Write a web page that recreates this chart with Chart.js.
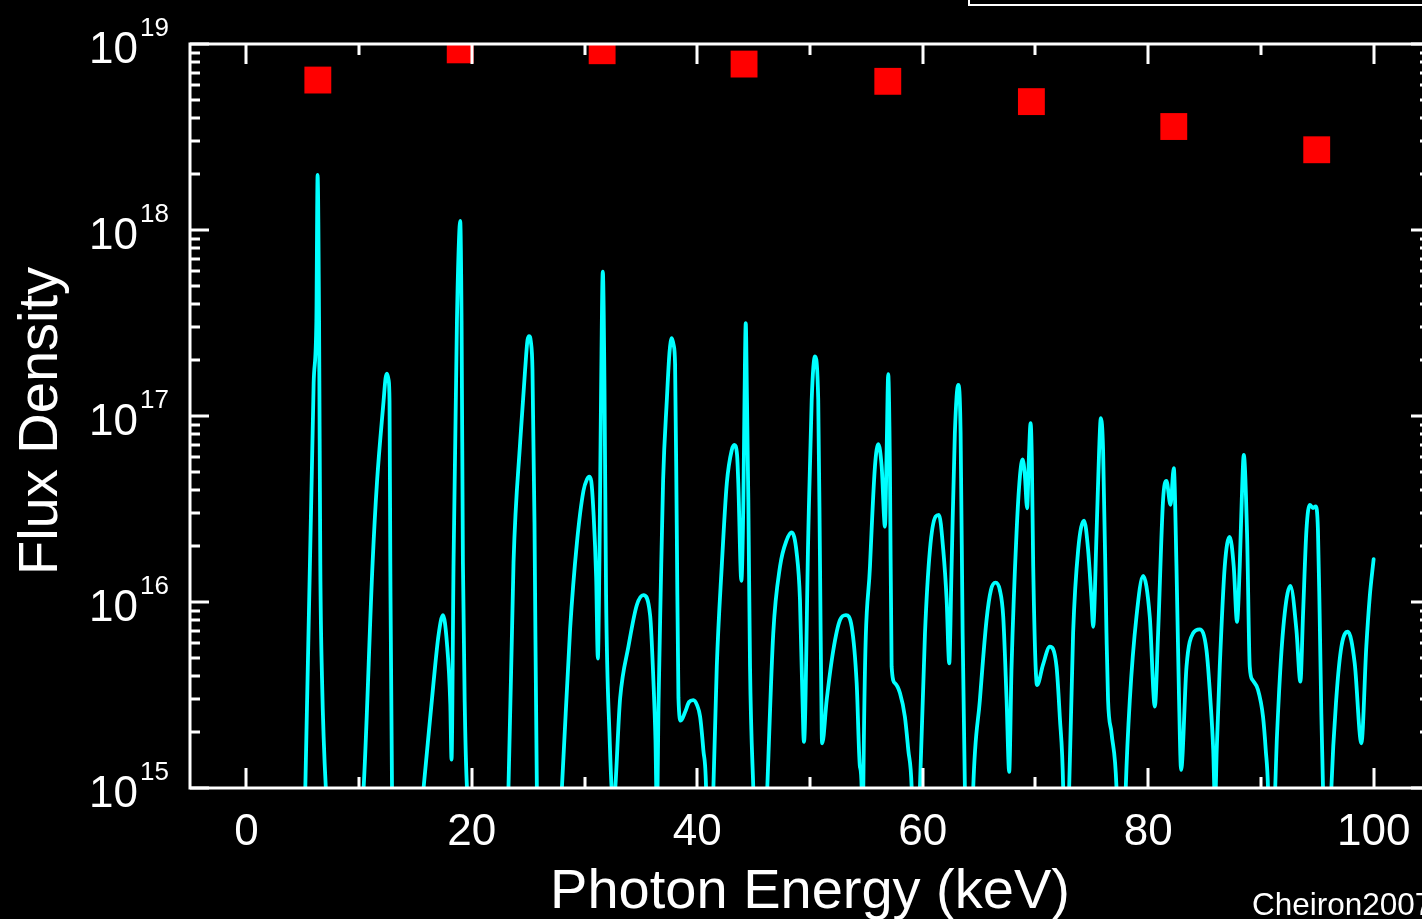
<!DOCTYPE html>
<html>
<head>
<meta charset="utf-8">
<title>Flux Density</title>
<script src="https://cdn.jsdelivr.net/npm/chart.js@4/dist/chart.umd.min.js"></script>
<style>
  html, body { margin: 0; padding: 0; background: #000; overflow: hidden; }
  #chart { display: block; }
</style>
</head>
<body>
<canvas id="chart" width="1422" height="919"></canvas>
<script>
// photon energy (keV) and flux density of the calculated spectrum
const energy = [
    5.05, 5.23, 5.97, 6.21, 6.32, 6.45, 6.56, 6.71, 7.05, 8.8,
    10.40, 11.20, 11.59, 12.17, 12.35, 12.47, 12.62, 12.70, 12.77, 12.92, 14.1,
    15.72, 16.60, 17.05, 17.44, 17.79, 18.09, 18.20, 18.38, 18.68, 18.86, 18.97, 19.09, 19.21, 19.39, 19.57, 21.5,
    23.25, 23.70, 24.29, 24.73, 24.94, 25.09, 25.24, 25.38, 25.56, 25.77, 26.9,
    27.99, 28.72, 29.32, 29.90, 30.23, 30.41, 30.59, 30.79, 31.03, 31.18, 31.32, 31.47, 31.62, 31.77, 31.91, 32.21,
    32.55, 33.16, 33.89, 34.64, 35.22, 35.82, 36.11, 36.29, 36.42,
    36.57, 36.75, 36.97, 37.30, 37.54, 37.74, 37.90, 38.03, 38.18, 38.33, 38.54, 38.92, 39.27, 39.65, 39.98, 40.25, 40.54, 40.78, 41.05,
    41.43, 41.73, 42.17, 42.62, 43.06, 43.29, 43.53, 43.64, 43.91, 44.09, 44.19, 44.30, 44.41, 44.53, 44.68, 44.97, 45.6,
    46.21, 46.74, 47.34, 47.93, 48.38, 48.82, 49.11, 49.41, 49.47, 49.85, 50.15, 50.44, 50.73, 50.89, 51.04, 51.09,
    51.48, 52.07, 52.66, 53.19, 53.70, 54.14, 54.43, 54.58, 54.65,
    54.73, 55.32, 55.76, 56.06, 56.36, 56.65, 56.80, 56.94, 57.09, 57.24, 57.54, 57.98, 58.42, 58.72, 59.02, 59.4,
    59.75, 60.20, 60.64, 61.14, 61.44, 61.82, 62.12, 62.35, 62.56, 62.85, 63.15, 63.36, 63.54, 63.74, 64.1,
    64.48, 65.07, 65.66, 66.05, 66.46, 66.84, 67.14, 67.44, 67.67, 67.88, 68.32, 68.62, 68.86, 69.06, 69.26, 69.41,
    69.57, 69.68, 69.80, 70.10, 70.15, 70.66, 71.28, 71.87, 72.16, 72.46, 72.7,
    72.99, 73.34, 73.79, 74.32, 74.67, 74.97, 75.12, 75.42, 75.65, 75.80, 76.00, 76.30, 76.44, 76.75, 77.19, 77.6,
    78.01, 78.37, 78.96, 79.55, 80.14, 80.59, 80.88, 81.32, 81.62, 81.98, 82.27, 82.51, 82.74, 82.92, 83.40, 83.98,
    84.57, 85.17, 85.52, 85.77, 85.93, 86.08,
    86.35, 86.79, 87.23, 87.59, 87.88, 88.12, 88.30, 88.48, 88.77, 89.01, 89.25, 89.74, 90.19, 90.43, 90.63, 90.96,
    91.27, 91.67, 92.11, 92.62, 93.15, 93.50, 93.74, 94.04, 94.33, 94.62, 94.86, 95.06, 95.21, 95.36, 95.51, 95.8,
    96.25, 96.70, 97.14, 97.72, 98.32, 98.91, 99.35, 99.65, 100.0
];
const flux = [
    1e14, 1e15, 1.51e17, 3.24e17, 1.98e18, 3.24e17, 1.58e16, 3.9e15, 1e15, 1e14,
    1e15, 1.63e16, 4.42e16, 1.20e17, 1.6e17, 1.69e17, 1.56e17, 1.20e17, 1.63e16, 1e15, 1e14,
    1e15, 3.67e15, 6.65e15, 8.5e15, 6.03e15, 2.84e15, 1.42e15, 1.63e16, 3.24e17, 8.8e17, 1.12e18, 3.24e17, 1.63e16, 2.45e15, 1e15, 1e14,
    1e15, 1.63e16, 7.26e16, 1.78e17, 2.56e17, 2.69e17, 2.50e17, 1.78e17, 2.68e16, 1e15, 1e14,
    1e15, 7.16e15, 2.07e16, 3.95e16, 4.58e16, 4.72e16, 4.48e16, 3.05e16, 1.35e16, 4.97e15, 1.68e16, 1.42e17, 5.98e17, 1.42e17, 1.09e16, 1.98e15,
    8e14, 3.05e15, 5.75e15, 9.64e15, 1.09e16, 8.45e15, 3.76e15, 1.81e15, 7e14,
    2.97e15, 1.09e16, 4.53e16, 1.22e17, 2.21e17, 2.62e17, 2.41e17, 1.91e17, 2.56e16, 3.05e15, 2.30e15, 2.56e15, 2.9e15, 2.97e15, 2.79e15, 2.42e15, 1.60e15, 1e15, 1e14,
    1e15, 4.49e15, 1.55e16, 4.35e16, 6.56e16, 6.99e16, 6.17e16, 4.35e16, 1.30e16, 3.53e16, 1.22e17, 3.16e17, 1.22e17, 3.53e16, 4.49e15, 1e15, 1e14,
    1e15, 6.79e15, 1.55e16, 2.15e16, 2.37e16, 1.83e16, 1.03e16, 1.97e15, 1.77e15, 2.35e16, 1.22e17, 2.09e17, 1.22e17, 1.55e16, 1.97e15, 1.74e15,
    2.97e15, 5.52e15, 8.0e15, 8.5e15, 7.36e15, 3.66e15, 1.30e15, 1e15, 1e14,
    1e15, 1.55e16, 5.33e16, 7.06e16, 5.33e16, 2.54e16, 6.56e16, 1.68e17, 5.33e16, 4.49e15, 3.66e15, 3.24e15, 2.41e15, 1.60e15, 1e15, 1e14,
    1e15, 6.79e15, 1.91e16, 2.88e16, 2.94e16, 1.91e16, 1.03e16, 4.68e15, 1.55e16, 8.07e16, 1.47e17, 8.07e16, 6.79e15, 1e15, 1e14,
    1e15, 2.97e15, 8.0e15, 1.16e16, 1.27e16, 1.16e16, 8.34e15, 2.97e15, 1.22e15, 4.49e15, 2.34e16, 4.72e16, 5.85e16, 4.82e16, 3.19e16, 5.80e16,
    9.14e16, 5.8e16, 1.55e16, 3.66e15, 3.58e15, 4.58e15, 5.75e15, 4.49e15, 2.41e15, 1e15, 1e14,
    1e15, 6.79e15, 1.91e16, 2.74e16, 1.91e16, 1.03e16, 7.36e15, 2.34e16, 6.56e16, 9.73e16, 6.56e16, 6.79e15, 2.97e15, 1.97e15, 1e15, 1e14,
    1e15, 2.97e15, 8.34e15, 1.38e16, 8.34e15, 2.74e15, 6.79e15, 3.53e16, 4.48e16, 3.33e16, 5.24e16, 1.55e16, 2.97e15, 1.25e15, 4.49e15, 6.79e15,
    7.13e15, 5.52e15, 2.97e15, 1.6e15, 8e14, 1.6e15,
    4.49e15, 1.55e16, 2.24e16, 1.55e16, 7.83e15, 1.55e16, 3.53e16, 6.17e16, 2.34e16, 4.49e15, 3.81e15, 3.37e15, 2.41e15, 1.60e15, 1e15, 1e14,
    1e15, 3.81e15, 8.68e15, 1.22e16, 7.07e15, 3.73e15, 8.68e15, 2.44e16, 3.33e16, 3.2e16, 3.27e16, 2.44e16, 8.68e15, 2.52e15, 1e15, 1e14,
    1e15, 3.10e15, 5.75e15, 6.92e15, 4.68e15, 1.74e15, 5.75e15, 1.06e16, 1.70e16
];

// odd harmonics: peak flux (red squares)
const harmonicEnergy = [6.34, 18.97, 31.56, 44.15, 56.9, 69.64, 82.27, 94.95];
const harmonicFlux = [6.4e18, 9.3e18, 9.2e18, 7.8e18, 6.3e18, 4.9e18, 3.6e18, 2.7e18];

const xTickValues = [0, 20, 40, 60, 80, 100];
const yDecades = [15, 16, 17, 18, 19];

// the plot frame runs from -5 to 105 keV; the window cuts it a little before 105
const X_MIN = -5, X_FRAME_MAX = 105, X_VISIBLE_MAX = 104.29;

const FONT = "'Liberation Sans', Arial, Helvetica, sans-serif";

// frame, inward ticks, labels and titles, drawn from the chart scales
const framePlugin = {
    id: 'frame',
    afterDraw(chart) {
        const ctx = chart.ctx;
        const area = chart.chartArea;
        const xs = chart.scales.x;
        const ys = chart.scales.y;
        const right = xs.getPixelForValue(X_FRAME_MAX);
        ctx.save();
        ctx.strokeStyle = '#fff';
        ctx.fillStyle = '#fff';
        ctx.lineWidth = 3;
        ctx.lineCap = 'butt';

        ctx.strokeRect(area.left, area.top, right - area.left, area.bottom - area.top);

        // x ticks, bottom and top
        ctx.beginPath();
        for (let v = 0; v <= 100; v += 10) {
            const px = Math.round(xs.getPixelForValue(v));
            const len = (v % 20 === 0) ? 20 : 11;
            ctx.moveTo(px, area.bottom);
            ctx.lineTo(px, area.bottom - len);
            ctx.moveTo(px, area.top);
            ctx.lineTo(px, area.top + len);
        }
        // y ticks, left and right
        for (let d = 15; d <= 19; d++) {
            for (let m = 1; m <= 9; m++) {
                if (d === 19 && m > 1) break;
                const py = Math.round(ys.getPixelForValue(m * Math.pow(10, d)));
                const len = (m === 1) ? 19 : 10;
                ctx.moveTo(area.left, py);
                ctx.lineTo(area.left + len, py);
                ctx.moveTo(right, py);
                ctx.lineTo(right - len, py);
            }
        }
        ctx.stroke();

        // x tick labels
        ctx.font = '44px ' + FONT;
        ctx.textAlign = 'center';
        ctx.textBaseline = 'alphabetic';
        xTickValues.forEach(v => {
            ctx.fillText(String(v), xs.getPixelForValue(v), 845);
        });

        // y tick labels, 10 with a raised exponent
        yDecades.forEach(d => {
            const py = ys.getPixelForValue(Math.pow(10, d));
            ctx.font = '44px ' + FONT;
            ctx.textAlign = 'right';
            ctx.fillText('10', 138, py + 18.5);
            ctx.font = '26px ' + FONT;
            ctx.textAlign = 'left';
            ctx.fillText(String(d), 140, py - 8.5);
        });

        // axis titles
        ctx.font = '56px ' + FONT;
        ctx.textAlign = 'center';
        ctx.fillText('Photon Energy (keV)', (area.left + right) / 2, 908);

        ctx.save();
        ctx.translate(57, 421);
        ctx.rotate(-Math.PI / 2);
        ctx.fillText('Flux Density', 0, 0);
        ctx.restore();

        ctx.font = '31.5px ' + FONT;
        ctx.textAlign = 'left';
        ctx.fillText('Cheiron2007', 1252, 915);

        // edge of the legend box cut off at the top
        ctx.lineWidth = 2;
        ctx.strokeRect(969, -20, 600, 25);
        ctx.restore();
    }
};

const spectrum = energy.map((e, i) => ({ x: e, y: flux[i] }));
const harmonics = harmonicEnergy.map((e, i) => ({ x: e, y: harmonicFlux[i] }));

new Chart(document.getElementById('chart'), {
    type: 'line',
    data: {
        datasets: [
            {
                label: 'Flux Density',
                data: spectrum,
                borderColor: '#00ffff',
                borderWidth: 3.8,
                pointRadius: 0,
                cubicInterpolationMode: 'monotone',
                borderJoinStyle: 'round',
                borderCapStyle: 'round',
                clip: 0,
                fill: false
            },
            {
                label: 'Peak',
                data: harmonics,
                showLine: false,
                pointStyle: 'rect',
                pointRadius: 19,
                pointBorderWidth: 0,
                pointBackgroundColor: '#ff0000',
                pointBorderColor: '#ff0000',
                clip: 0
            }
        ]
    },
    options: {
        responsive: false,
        devicePixelRatio: 1,
        animation: false,
        events: [],
        layout: {
            autoPadding: false,
            padding: { left: 190, top: 44, right: 0, bottom: 131 }
        },
        plugins: {
            legend: { display: false },
            tooltip: { enabled: false }
        },
        scales: {
            x: { type: 'linear', min: X_MIN, max: X_VISIBLE_MAX, display: false },
            y: { type: 'logarithmic', min: 1e15, max: 1e19, display: false }
        }
    },
    plugins: [framePlugin]
});
</script>
</body>
</html>
